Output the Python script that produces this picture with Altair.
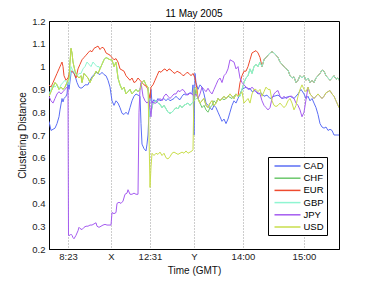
import altair as alt
import pandas as pd

# ---- data: event-time index t (0..290) and clustering distance d ----
cad_t = [0,2,4,6,8,10,11,13,14,15,17,18,19,20,22,24,26,28,30,32,34,36,39,41,43,45,47,49,51,53,55,57,59,61,63,65,67,69,71,73,75,77,79,81,83,85,87,89,91,92,93,95,97,98,99,100,101,102,103,105,107,109,111,113,115,117,119,121,123,125,127,129,131,133,135,137,139,141,143,144,145,146,147,149,151,153,155,157,159,161,163,165,167,169,171,173,175,177,179,181,183,185,187,189,191,193,195,197,199,201,203,206,209,212,215,218,221,225,229,233,237,241,245,249,252,255,257,259,261,263,265,267,269,271,273,275,277,279,281,283,285,287,289,290]
cad_d = [0.76,0.72,0.725,0.73,0.75,0.78,0.81,0.86,0.845,0.86,0.87,0.88,0.93,0.90,0.97,0.98,0.96,0.93,0.91,0.905,0.91,0.92,0.92,0.94,0.955,0.965,0.975,0.97,0.965,0.975,0.965,0.96,0.94,0.91,0.85,0.83,0.85,0.84,0.82,0.795,0.79,0.80,0.79,0.82,0.85,0.87,0.88,0.875,0.87,0.75,0.66,0.64,0.63,0.66,0.70,0.80,0.86,0.90,0.84,0.855,0.845,0.86,0.85,0.855,0.86,0.85,0.86,0.85,0.855,0.86,0.87,0.86,0.855,0.87,0.88,0.875,0.88,0.885,0.88,0.92,0.70,0.97,0.93,0.90,0.92,0.91,0.88,0.84,0.83,0.82,0.81,0.83,0.82,0.80,0.78,0.76,0.77,0.75,0.77,0.80,0.83,0.85,0.84,0.86,0.88,0.90,0.905,0.91,0.90,0.905,0.89,0.895,0.88,0.885,0.87,0.875,0.86,0.87,0.875,0.86,0.865,0.87,0.86,0.88,0.90,0.88,0.86,0.87,0.85,0.86,0.84,0.82,0.79,0.75,0.735,0.73,0.735,0.72,0.725,0.72,0.70,0.70,0.70,0.70]

usd_left_t = [0,2,4,6,8,10,12,14,16,18,20,21,22,23,24,26,28,30,32,33,35,37,39,41,43,45,47,49]
usd_left_d = [0.87,0.89,0.91,0.93,0.92,0.90,0.91,0.90,0.91,0.93,0.95,1.02,1.08,1.06,1.02,0.98,0.96,0.95,0.96,0.93,0.97,0.96,0.95,0.93,0.95,0.96,0.98,0.97]

lead_t = [51,53,55,57,59,61,63,65,67,69,71,73,75,77,79,81,83,85,87,89,91,93,95,97,99]
lead_d = [0.99,1.01,1.03,1.04,1.035,1.03,1.03,1.0,1.02,0.95,0.92,0.90,0.91,0.88,0.89,0.90,0.88,0.89,0.90,0.89,0.90,0.93,0.94,0.92,0.91]

usd_low_t = [100,101,102,103,105,107,109,111,113,115,117,119,121,123,125,127,129,131,133,135,137,139,141,143,144,145,147]
usd_low_d = [0.70,0.47,0.56,0.62,0.61,0.62,0.615,0.625,0.61,0.62,0.60,0.595,0.605,0.62,0.625,0.62,0.615,0.62,0.625,0.62,0.63,0.62,0.625,0.63,0.635,0.90,0.91]

mixed_t = [149,151,153,155,157,159,161,163,165,167,169,171,173,175,177,179,181,183,185,187,189]
mixed_d = [0.86,0.84,0.85,0.86,0.83,0.82,0.84,0.85,0.83,0.84,0.86,0.85,0.86,0.87,0.86,0.87,0.88,0.87,0.86,0.88,0.87]

usd_tail_t = [191,193,195,197,199,201,203,205,207,209,211,213,215,217,219,221,223,225,227,229,231,233,235,237,239,241,243,245,247,249,251,253,255,257]
usd_tail_d = [0.88,0.89,0.84,0.85,0.86,0.84,0.88,0.90,0.90,0.89,0.90,0.87,0.89,0.91,0.90,0.90,0.85,0.83,0.825,0.83,0.84,0.83,0.82,0.83,0.85,0.86,0.84,0.81,0.83,0.87,0.90,0.92,0.90,0.89]

late_t = [259,261,263,265,267,269,271,273,275,277,279,281,283,285,287,289,290]
late_d = [0.91,0.88,0.87,0.86,0.87,0.88,0.87,0.86,0.87,0.885,0.89,0.895,0.88,0.87,0.85,0.83,0.82]

eur_own_t = [0,2,4,6,8,10,12,13,14,15,17,19,21,23,25,27,29,31,33,35,37,39,41,43,45,47,49,51,53,55,57,59,61,63,65,67,69,71,73,75,77,79,81,83,85,87,89,91,93,95,97,99,101,102,104,106,108,110,112,114,116,118,120,122,124,126,128,130,132,134,136,138,140,142,144,146,148]
eur_own_d = [0.92,0.91,0.93,0.95,0.97,0.99,1.01,1.02,1.00,0.96,0.94,0.95,0.98,0.98,0.97,0.95,0.99,1.01,1.03,1.04,1.05,1.06,1.07,1.065,1.08,1.085,1.09,1.075,1.085,1.08,1.06,1.055,1.05,1.04,1.03,1.035,1.02,0.99,0.985,0.98,0.96,0.95,0.94,0.95,0.93,0.935,0.95,0.94,0.93,0.92,0.915,0.90,0.86,0.91,0.92,0.94,0.96,0.98,0.975,0.985,0.99,0.98,0.99,0.985,0.975,0.97,0.98,0.975,0.97,0.96,0.965,0.975,0.97,0.96,0.97,0.95,0.90]

eur_peak_t = [191,193,195,197,199,201,203,205,207,209,211]
eur_peak_d = [0.93,0.96,0.98,0.98,1.0,1.03,1.06,1.065,1.07,1.06,1.04]

gbp_rise_t = [191,193,195,197,199,201,203,205,207,209,211]
gbp_rise_d = [0.87,0.90,0.93,0.95,0.96,0.99,0.97,1.0,1.01,1.0,1.02]

shared_right_t = [213,215,217,219,221,223,225,227,229,231,233,235,237,239,241,243,245,247,249,251,253,255,257,259,261,263,265,267,269,271,273,275,277,279,281,283,285,287,289,290]
shared_right_d = [1.0,1.03,1.04,1.05,1.06,1.065,1.06,1.05,1.04,1.02,1.01,1.0,0.99,0.985,0.96,0.95,0.955,0.93,0.94,0.96,0.95,0.96,0.94,0.95,0.93,0.94,0.93,0.95,0.96,0.97,0.985,0.98,0.96,0.95,0.94,0.95,0.96,0.945,0.95,0.94]

gbp_left_t = [0,2,4,6,8,10,12,14,16,18,20,22,24,26,28,30,32,34,36,38,40,42,44,46,48,50]
gbp_left_d = [0.88,0.90,0.92,0.91,0.92,0.90,0.92,0.93,0.94,0.93,0.92,1.0,0.98,0.97,0.96,0.97,0.97,0.99,1.0,1.02,1.01,1.0,1.02,1.01,1.0,1.0]

gbp_mid_t = [100,101,102,104,107,109,111,113,115,117,119,121,123,125,127,129,131,133,135,137,139,141,143,145]
gbp_mid_d = [0.84,0.78,0.80,0.84,0.85,0.84,0.835,0.82,0.83,0.815,0.80,0.795,0.80,0.81,0.82,0.815,0.83,0.82,0.83,0.835,0.84,0.83,0.84,0.85]

gbp_step_t = [147]
gbp_step_d = [0.86]

chf_own_t = [147,149,151,153,155,157,159,161,163,165,167,169,171,173,175,177,179,181,183,185,187,189]
chf_own_d = [0.90,0.86,0.84,0.82,0.83,0.81,0.80,0.82,0.83,0.85,0.84,0.86,0.85,0.86,0.855,0.86,0.87,0.865,0.86,0.87,0.88,0.87]

jpy_own_t = [0,2,4,6,8,10,12,14,16,18,19,19.5,21,22,23,24,25,27,29,30,31,33,35,37,39,41,43,45,47,48,50,52,54,56,58,60,62,63,65,67,68,70,72,74,76,78,79,81,83,85,87,89,90,91,92,94,96,98,100,102,103,105,107,109,111,113,115,117,119,121,123,125,127,129,131,133,135,137,139,141,143,145,147,149,151,153,155,157,159,161,163,165,167,169,171,173,175,177,179,181,183,185,187,189,191,193,195,197,199,201,203,205,207,209,211,213,215,217,219,221,223,225,227,229,231,233,235,237,239,241,243,245,247,249,251,253,255]
jpy_own_d = [0.87,0.85,0.84,0.86,0.88,0.89,0.88,0.89,0.90,0.91,0.90,0.26,0.26,0.265,0.26,0.25,0.245,0.26,0.28,0.295,0.29,0.285,0.295,0.30,0.30,0.305,0.305,0.31,0.315,0.30,0.295,0.30,0.305,0.308,0.305,0.305,0.305,0.36,0.355,0.36,0.40,0.405,0.40,0.41,0.44,0.445,0.46,0.44,0.44,0.445,0.44,0.44,0.80,0.90,0.93,0.87,0.85,0.84,0.85,0.78,0.85,0.84,0.84,0.85,0.86,0.85,0.87,0.88,0.87,0.86,0.87,0.88,0.88,0.895,0.89,0.90,0.895,0.88,0.875,0.885,0.88,0.87,0.88,0.86,0.88,0.91,0.90,0.89,0.905,0.89,0.88,0.90,0.92,0.94,0.95,0.93,0.96,0.97,0.99,1.03,1.025,1.02,0.99,1.0,0.95,0.93,0.92,0.91,0.905,0.90,0.91,0.90,0.89,0.885,0.88,0.85,0.83,0.82,0.81,0.82,0.86,0.88,0.89,0.895,0.87,0.86,0.87,0.86,0.865,0.87,0.87,0.86,0.84,0.83,0.81,0.78,0.80]

currencies = ["CAD", "CHF", "EUR", "GBP", "JPY", "USD"]
colors = ["#5b6ef5", "#6cc86c", "#ee4a2e", "#8ff5d2", "#a55cf0", "#c9de4c"]
tick_pos = [19, 62, 101, 145, 194, 255]
tick_lab = ["8:23", "X", "12:31", "Y", "14:00", "15:00"]

# each currency's trace is made of the read-off pieces above
pieces = {
    "CAD": [(cad_t, cad_d)],
    "CHF": [(usd_left_t, usd_left_d), (lead_t, lead_d), (gbp_mid_t, gbp_mid_d),
            (chf_own_t, chf_own_d), (gbp_rise_t, gbp_rise_d), (shared_right_t, shared_right_d)],
    "EUR": [(eur_own_t, eur_own_d), (mixed_t, mixed_d), (eur_peak_t, eur_peak_d),
            (shared_right_t, shared_right_d)],
    "GBP": [(gbp_left_t, gbp_left_d), (lead_t, lead_d), (gbp_mid_t, gbp_mid_d),
            (gbp_step_t, gbp_step_d), (mixed_t, mixed_d), (gbp_rise_t, gbp_rise_d),
            (shared_right_t, shared_right_d)],
    "JPY": [(jpy_own_t, jpy_own_d), (late_t, late_d)],
    "USD": [(usd_left_t, usd_left_d), (lead_t, lead_d), (usd_low_t, usd_low_d),
            (mixed_t, mixed_d), (usd_tail_t, usd_tail_d), (late_t, late_d)],
}
rows = []
for name, segs in pieces.items():
    i = 0
    for ts, ds in segs:
        assert len(ts) == len(ds), (name, len(ts), len(ds))
        for a, b in zip(ts, ds):
            rows.append({"t": a, "d": b, "cur": name, "i": i})
            i += 1
df = pd.DataFrame(rows)

label_expr = " : ".join(
    f"datum.value == {p} ? '{l}'" for p, l in zip(tick_pos, tick_lab)) + " : ''"

FONT = "Liberation Sans"
chart = alt.Chart(df).mark_line(strokeWidth=1, clip=True).encode(
    x=alt.X("t:Q", scale=alt.Scale(domain=[0, 290], nice=False, zero=False),
            axis=alt.Axis(values=tick_pos, labelExpr=label_expr, title="Time (GMT)",
                          grid=True, gridDash=[1, 2], gridColor="#9a9a9a",
                          ticks=False, labelPadding=2, titlePadding=5)),
    y=alt.Y("d:Q", scale=alt.Scale(domain=[0.2, 1.2], nice=False, zero=False),
            axis=alt.Axis(values=[0.2,0.3,0.4,0.5,0.6,0.7,0.8,0.9,1.0,1.1,1.2], format="~g",
                          title="Clustering Distance", grid=False, ticks=False,
                          labelPadding=4, titlePadding=4)),
    color=alt.Color("cur:N", scale=alt.Scale(domain=currencies, range=colors),
                    legend=alt.Legend(title=None, orient="none", legendX=219, legendY=136,
                                      symbolType="M-0.5,0H4.7", symbolSize=100,
                                      symbolStrokeWidth=1.5, labelFontSize=9.5,
                                      labelFont=FONT, rowPadding=1.2,
                                      strokeColor="black", fillColor="white",
                                      padding=3, labelOffset=20.5)),
    order="i:Q",
).properties(
    width=290, height=228,
    title=alt.TitleParams("11 May 2005", fontSize=10, font=FONT, fontWeight="normal",
                          offset=4, dy=7),
    autosize=alt.AutoSizeParams(type="none"),
    padding={"left": 41, "top": 13, "right": 27, "bottom": 30},
).configure_view(stroke="black", strokeWidth=1).configure_axis(
    labelFont=FONT, titleFont=FONT, labelFontSize=9.5, titleFontSize=10,
    titleFontWeight="normal", domainColor="black", labelColor="#222", titleColor="#111",
)

chart.save("out.html", embed_options={"renderer": "svg", "actions": False})
